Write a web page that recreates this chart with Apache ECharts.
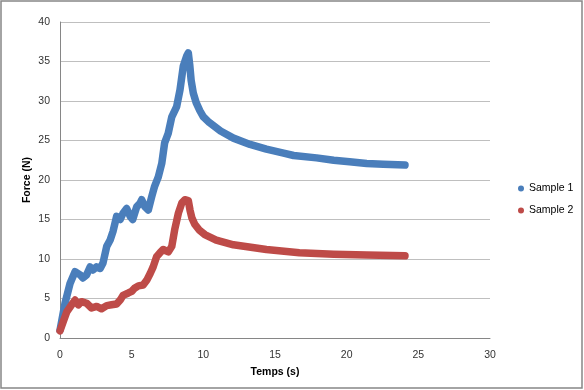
<!DOCTYPE html>
<html><head><meta charset="utf-8">
<script src="https://cdn.jsdelivr.net/npm/echarts@6/dist/echarts.min.js"></script>
<style>html,body{margin:0;padding:0;background:#fff}#c{width:584px;height:390px}</style>
</head><body><div id="c"></div>
<script>
var seriesNames = ['Sample 1', 'Sample 2'];
var xTicks = [0, 5, 10, 15, 20, 25, 30];
var yTicks = [0, 5, 10, 15, 20, 25, 30, 35, 40];
var sample1 = [
 [0,1.0],[0.35,4.4],[0.7,6.9],[1.05,8.4],[1.4,8.0],[1.6,7.6],[1.86,8.0],[2.1,9.0],[2.3,8.6],[2.55,9.0],
 [2.8,8.8],[3.0,9.5],[3.26,11.6],[3.5,12.4],[3.7,13.5],[3.95,15.4],[4.2,15.0],[4.4,15.8],[4.65,16.4],
 [4.9,15.4],[5.07,15.0],[5.35,16.6],[5.6,17.1],[5.7,17.5],[5.93,16.6],[6.16,16.2],[6.4,17.9],[6.6,19.2],
 [6.86,20.4],[7.1,22.1],[7.3,24.7],[7.55,25.9],[7.8,28.0],[8.14,29.3],[8.37,31.4],[8.6,34.4],[8.84,35.7],
 [8.95,36.1],[9.05,34.6],[9.15,32.6],[9.3,31.0],[9.5,29.8],[9.75,28.8],[10.0,28.0],[10.4,27.3],[11.2,26.2],[12.1,25.3],
 [13.26,24.5],[14.4,23.9],[15.6,23.4],[16.3,23.1],[17.9,22.8],[19.1,22.5],[20.2,22.3],[21.4,22.1],
 [22.56,22.0],[24.07,21.9]
];
var sample2 = [
 [0,0.9],[0.23,2.1],[0.47,3.3],[0.81,4.2],[1.05,4.8],[1.28,4.2],[1.5,4.6],[1.86,4.4],[2.2,3.8],[2.56,4.0],
 [2.9,3.7],[3.26,4.1],[3.6,4.2],[3.95,4.3],[4.2,4.8],[4.4,5.4],[4.77,5.7],[5.0,5.9],[5.2,6.3],[5.47,6.6],
 [5.8,6.7],[6.05,7.3],[6.3,8.2],[6.5,9.0],[6.74,10.3],[6.98,10.8],[7.2,11.2],[7.56,10.9],[7.8,11.6],
 [8.0,13.7],[8.26,15.8],[8.5,17.1],[8.72,17.5],[8.95,17.4],[9.07,16.2],[9.2,15.2],[9.4,14.4],[9.7,13.7],[10.1,13.1],
 [10.9,12.4],[12.1,11.8],[14.4,11.2],[16.7,10.8],[19.1,10.6],[21.4,10.5],[24.07,10.4]
];
var colors = ['#4A7EBB', '#BE4B48'];
var font = '"Liberation Sans", Arial, sans-serif';
var chart = echarts.init(document.getElementById('c'), null, {renderer: 'canvas'});
function mkSeries(name, data, color) {
  return {
    name: name, type: 'line', data: data, showSymbol: false, symbol: 'circle', smooth: false,
    itemStyle: {color: color},
    lineStyle: {width: 7.5, color: color, cap: 'round', join: 'round'},
    animation: false
  };
}
chart.setOption({
  animation: false,
  textStyle: {fontFamily: font},
  graphic: [{type: 'rect', shape: {x: 1, y: 1, width: 581, height: 387},
    style: {fill: 'none', stroke: '#878787', lineWidth: 1.5}, silent: true, z: -1}],
  grid: {left: 60, right: 94, top: 22, bottom: 52},
  legend: {
    orient: 'vertical', left: 513, top: 178, itemWidth: 6, itemHeight: 6, itemGap: 11,
    icon: 'circle', textStyle: {fontSize: 10.5, color: '#000', fontFamily: font},
    data: seriesNames
  },
  xAxis: {
    type: 'value', min: xTicks[0], max: xTicks[xTicks.length - 1], interval: 5,
    name: 'Temps (s)', nameLocation: 'middle', nameGap: 29, nameMoveOverlap: false,
    nameTextStyle: {fontWeight: 'bold', fontSize: 10.5, color: '#000', fontFamily: font},
    axisLine: {show: true, lineStyle: {color: '#868686', width: 1}},
    axisTick: {show: false},
    axisLabel: {fontSize: 10.5, color: '#333', margin: 12, fontFamily: font},
    splitLine: {show: false}
  },
  yAxis: {
    type: 'value', min: yTicks[0], max: yTicks[yTicks.length - 1], interval: 5,
    name: 'Force (N)', nameLocation: 'middle', nameGap: 27, nameRotate: 90, nameMoveOverlap: false,
    nameTextStyle: {fontWeight: 'bold', fontSize: 10.5, color: '#000', fontFamily: font},
    axisLine: {show: true, lineStyle: {color: '#868686', width: 1}},
    axisTick: {show: false},
    axisLabel: {fontSize: 10.5, color: '#333', margin: 10, fontFamily: font},
    splitLine: {show: true, lineStyle: {color: '#bfbfbf', width: 1}}
  },
  series: [mkSeries(seriesNames[0], sample1, colors[0]), mkSeries(seriesNames[1], sample2, colors[1])]
});
</script></body></html>
